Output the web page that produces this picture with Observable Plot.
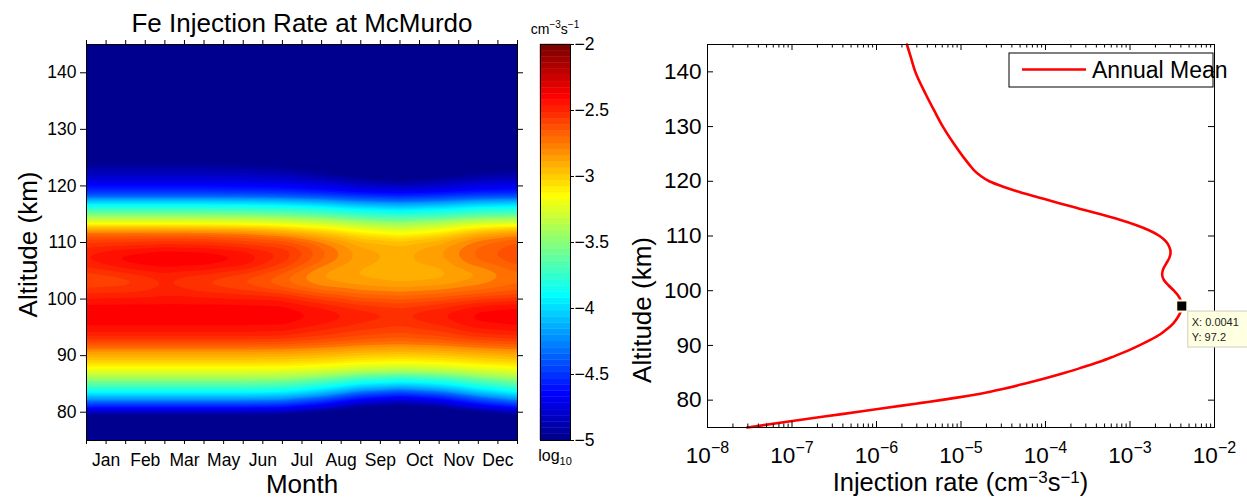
<!DOCTYPE html>
<html>
<head>
<meta charset="utf-8">
<script src="https://cdn.jsdelivr.net/npm/d3@7"></script>
<script src="https://cdn.jsdelivr.net/npm/@observablehq/plot@0.6"></script>
<style>
  html, body { margin: 0; padding: 0; background: #fff; }
  #wrap { position: relative; width: 1247px; height: 498px; overflow: hidden; background: #fff; }
  #wrap > svg { position: absolute; top: 0; overflow: visible; }
</style>
</head>
<body>
<div id="wrap"></div>
<script>
// ---------------- DATA ----------------
const titleText = "Fe Injection Rate at McMurdo";
const monthLabels = ["Jan","Feb","Mar","May","Jun","Jul","Aug","Sep","Oct","Nov","Dec"];
const altTicks = [80, 90, 100, 110, 120, 130, 140];
const colorTicks = [-5, -4.5, -4, -3.5, -3, -2.5, -2];
const rateTicks = [1e-8, 1e-7, 1e-6, 1e-5, 1e-4, 1e-3, 1e-2];

// heat map grid: month-axis position (0..22) x altitude (km), values = log10 injection rate
const gridMonth = [0, 2, 4, 6, 8, 10, 12, 14, 16, 18, 20, 22];
const gridAlt = [75, 78, 79.5, 81, 82.5, 84, 85.5, 87, 88.5, 90, 91.5, 93, 94.5, 96, 97.5, 99, 100.5, 102, 103.5, 105, 106.5, 108, 109.5, 111, 112.5, 114, 115.5, 117, 118.5, 120, 121.5, 123, 124.5, 126, 130, 145];
const gridLog = [
  [-5.6,-5.6,-5.6,-5.6,-5.6,-5.61,-5.67,-5.76,-5.8,-5.76,-5.67,-5.6],
  [-5.25,-5.25,-5.25,-5.25,-5.25,-5.265,-5.355,-5.49,-5.55,-5.49,-5.355,-5.25],
  [-5.0,-5.0,-5.0,-5.0,-5.0,-5.02,-5.12,-5.28,-5.35,-5.28,-5.12,-5.0],
  [-4.52,-4.52,-4.52,-4.52,-4.52,-4.54,-4.69,-4.9,-5.0,-4.9,-4.69,-4.52],
  [-4.15,-4.15,-4.15,-4.15,-4.15,-4.18,-4.34,-4.59,-4.7,-4.59,-4.34,-4.15],
  [-3.75,-3.75,-3.75,-3.75,-3.75,-3.78,-3.925,-4.15,-4.25,-4.15,-3.925,-3.75],
  [-3.5,-3.5,-3.5,-3.5,-3.5,-3.52,-3.62,-3.78,-3.85,-3.78,-3.62,-3.5],
  [-3.25,-3.25,-3.25,-3.25,-3.25,-3.26,-3.32,-3.41,-3.45,-3.41,-3.32,-3.25],
  [-3.02,-3.02,-3.02,-3.02,-3.02,-3.03,-3.065,-3.125,-3.15,-3.125,-3.065,-3.02],
  [-2.88,-2.88,-2.88,-2.88,-2.88,-2.885,-2.915,-2.96,-2.98,-2.96,-2.915,-2.88],
  [-2.7,-2.7,-2.7,-2.7,-2.7,-2.705,-2.735,-2.78,-2.8,-2.78,-2.735,-2.7],
  [-2.52,-2.52,-2.52,-2.52,-2.52,-2.53,-2.57,-2.62,-2.65,-2.62,-2.56,-2.53],
  [-2.42,-2.42,-2.42,-2.42,-2.42,-2.43,-2.5,-2.55,-2.58,-2.54,-2.46,-2.43],
  [-2.38,-2.38,-2.38,-2.38,-2.38,-2.38,-2.42,-2.48,-2.52,-2.47,-2.39,-2.37],
  [-2.36,-2.36,-2.36,-2.36,-2.36,-2.36,-2.41,-2.47,-2.5,-2.45,-2.38,-2.36],
  [-2.39,-2.39,-2.39,-2.39,-2.39,-2.4,-2.47,-2.54,-2.58,-2.53,-2.45,-2.42],
  [-2.47,-2.46,-2.45,-2.46,-2.48,-2.5,-2.6,-2.68,-2.7,-2.67,-2.62,-2.58],
  [-2.56,-2.55,-2.49,-2.54,-2.58,-2.66,-2.75,-2.78,-2.8,-2.78,-2.73,-2.68],
  [-2.6,-2.58,-2.5,-2.56,-2.62,-2.7,-2.8,-2.85,-2.88,-2.86,-2.8,-2.72],
  [-2.54,-2.47,-2.43,-2.45,-2.51,-2.63,-2.8,-2.86,-2.88,-2.87,-2.8,-2.7],
  [-2.45,-2.385,-2.355,-2.365,-2.4,-2.53,-2.7,-2.83,-2.87,-2.83,-2.7,-2.62],
  [-2.45,-2.385,-2.355,-2.365,-2.41,-2.5,-2.68,-2.82,-2.87,-2.8,-2.68,-2.6],
  [-2.52,-2.5,-2.47,-2.48,-2.52,-2.56,-2.7,-2.85,-2.89,-2.83,-2.7,-2.62],
  [-2.62,-2.62,-2.62,-2.63,-2.66,-2.72,-2.83,-2.96,-3.02,-2.94,-2.78,-2.7],
  [-2.85,-2.85,-2.85,-2.86,-2.88,-2.95,-3.05,-3.2,-3.3,-3.2,-3.02,-2.94],
  [-3.35,-3.35,-3.35,-3.35,-3.36,-3.38,-3.43,-3.51,-3.55,-3.51,-3.44,-3.41],
  [-3.6,-3.6,-3.6,-3.6,-3.61,-3.64,-3.7,-3.8,-3.85,-3.8,-3.71,-3.68],
  [-3.95,-3.95,-3.95,-3.95,-3.96,-3.99,-4.06,-4.17,-4.22,-4.17,-4.07,-4.03],
  [-4.45,-4.45,-4.45,-4.45,-4.46,-4.47,-4.51,-4.57,-4.6,-4.57,-4.52,-4.5],
  [-4.6,-4.6,-4.6,-4.6,-4.61,-4.63,-4.69,-4.78,-4.83,-4.78,-4.7,-4.67],
  [-4.8,-4.8,-4.8,-4.8,-4.81,-4.83,-4.89,-4.98,-5.03,-4.98,-4.9,-4.87],
  [-4.88,-4.88,-4.88,-4.88,-4.89,-4.92,-4.99,-5.1,-5.15,-5.1,-5.0,-4.96],
  [-5.0,-5.0,-5.0,-5.0,-5.02,-5.05,-5.12,-5.24,-5.3,-5.24,-5.14,-5.09],
  [-5.15,-5.15,-5.15,-5.15,-5.17,-5.2,-5.27,-5.39,-5.45,-5.39,-5.29,-5.24],
  [-5.4,-5.4,-5.4,-5.4,-5.41,-5.43,-5.48,-5.56,-5.6,-5.56,-5.49,-5.46],
  [-5.8,-5.8,-5.8,-5.8,-5.8,-5.8,-5.85,-5.85,-5.9,-5.85,-5.8,-5.8]
];

// annual mean profile
const profileAlt = [75,76,77,78,79,79.5,80,80.5,81,81.5,82,83,84,85,86,87,88,89,90,91,92,93,94,95,96,97.2,98,99,100,101,102,103,104,105,106,107,108,109,110,111,112,113,114,115,116,117,118,119,120,121,122,123,124,127,130,133,136,140,143,145];
const profileRate = [2.95e-8,8.32e-8,2.40e-7,7.08e-7,2.0e-6,3.39e-6,5.75e-6,9.33e-6,1.45e-5,2.14e-5,3.02e-5,5.62e-5,1.0e-4,1.70e-4,2.75e-4,4.37e-4,6.46e-4,9.33e-4,1.29e-3,1.74e-3,2.26e-3,2.75e-3,3.24e-3,3.63e-3,3.94e-3,4.10e-3,4.03e-3,3.76e-3,3.31e-3,2.85e-3,2.51e-3,2.40e-3,2.48e-3,2.69e-3,2.92e-3,3.02e-3,2.92e-3,2.66e-3,2.24e-3,1.70e-3,1.17e-3,7.41e-4,4.37e-4,2.51e-4,1.45e-4,8.51e-5,5.01e-5,3.16e-5,2.16e-5,1.70e-5,1.43e-5,1.26e-5,1.12e-5,8.13e-6,6.10e-6,4.79e-6,3.80e-6,2.88e-6,2.51e-6,2.29e-6];
const legendLabel = "Annual Mean";
const tipPoint = {x: 0.0041, y: 97.2};

// ---------------- HELPERS ----------------
const FONT = "'Liberation Sans', Arial, Helvetica, sans-serif";
function jet64(t) {
  const i = Math.min(64, Math.max(1, Math.floor(t * 64) + 1));
  const c = v => Math.max(0, Math.min(1, v));
  const r = c(Math.min((i - 24) / 16, (72 - i) / 16));
  const g = c(Math.min((i - 8) / 16, (56 - i) / 16));
  const b = c(Math.min((i + 8) / 16, (40 - i) / 16));
  return `rgb(${Math.round(r * 255)},${Math.round(g * 255)},${Math.round(b * 255)})`;
}
const minus = s => String(s).replace("-", "\u2212");
function richText(parent, x, y, parts, opts) {
  const t = d3.select(parent).append("text")
    .attr("x", x).attr("y", y)
    .attr("text-anchor", opts.anchor || "middle")
    .attr("font-family", FONT)
    .attr("font-size", opts.size)
    .attr("fill", "black");
  let shift = 0;
  for (const p of parts) {
    const ts = t.append("tspan").text(p.t);
    const target = p.sup ? -opts.rise : p.sub ? opts.drop : 0;
    if (target !== shift) { ts.attr("dy", target - shift); shift = target; }
    if (p.sup || p.sub) ts.attr("font-size", opts.small);
  }
  return t;
}
function plainText(parent, x, y, str, size, fill) {
  return d3.select(parent).append("text")
    .attr("x", x).attr("y", y).attr("text-anchor", "start")
    .attr("font-family", FONT).attr("font-size", size)
    .attr("fill", fill || "black").text(str);
}

const H = 498;
const wrap = document.getElementById("wrap");
const baseStyle = {fontFamily: FONT, background: "transparent", overflow: "visible", color: "black"};

// ---------------- LEFT: HEAT MAP ----------------
const heatData = gridAlt.flatMap((alt, r) => gridMonth.map((m, c) => ({m, alt, v: gridLog[r][c]})));
const levels = d3.range(0, 61).map(k => Math.round((-5 + k * 0.05) * 100) / 100);
const thresholds = [-9, ...levels];
const W1 = 520, FW1 = 431, FH1 = 396;
const monthPos = monthLabels.map((d, i) => 2 * i + 1);
const monthTickPos = d3.range(0, 23);

const left = Plot.plot({
  width: W1, height: H,
  marginLeft: 86, marginRight: W1 - 86 - FW1, marginTop: 44, marginBottom: H - 44 - FH1,
  style: baseStyle,
  x: {domain: [0, 22]},
  y: {domain: [75, 145]},
  color: {type: "linear", domain: [-5, -2], interpolate: jet64, clamp: true},
  marks: [
    Plot.contour(heatData, {x: "m", y: "alt", fill: "v", thresholds, interpolate: "barycentric", pixelSize: 1, blur: 4, stroke: "none"}),
    Plot.frame({stroke: "black", strokeWidth: 1}),
    Plot.axisY(altTicks, {anchor: "left", tickSize: 6, tickPadding: 4, fontSize: 17.5, label: null}),
    Plot.tickY(altTicks, {y: d => d, insetLeft: FW1, insetRight: -6, stroke: "black"}),
    Plot.axisX(monthPos, {anchor: "bottom", tickSize: 0, tickPadding: 13, fontSize: 17.5, tickFormat: d => monthLabels[(d - 1) / 2], label: null}),
    Plot.tickX(monthTickPos, {x: d => d, insetTop: FH1, insetBottom: -4, stroke: "black"}),
    Plot.tickX(monthTickPos, {x: d => d, insetBottom: FH1, insetTop: -4, stroke: "black"}),
    Plot.text([titleText], {text: d => d, frameAnchor: "top", dy: -13, fontSize: 26, lineAnchor: "bottom", textAnchor: "middle"}),
    Plot.text(["Month"], {text: d => d, frameAnchor: "bottom", dy: 52, fontSize: 26, lineAnchor: "bottom", textAnchor: "middle"}),
    Plot.text(["Altitude (km)"], {text: d => d, frameAnchor: "left", textAnchor: "middle", rotate: -90, dx: -50, dy: 2, fontSize: 26, lineAnchor: "bottom"})
  ]
});
left.style.left = "0px";
wrap.appendChild(left);

// ---------------- COLORBAR ----------------
const bins = d3.range(64).map(i => ({lo: -5 + i * 3 / 64, hi: -5 + (i + 1) * 3 / 64, c: jet64((i + 0.5) / 64)}));
const cbar = Plot.plot({
  width: 100, height: H,
  marginLeft: 20, marginRight: 50, marginTop: 44, marginBottom: H - 44 - FH1,
  style: baseStyle,
  y: {domain: [-5, -2]},
  color: {type: "identity"},
  marks: [
    Plot.rect(bins, {y1: "lo", y2: "hi", fill: "c", stroke: "c", strokeWidth: 0.4}),
    Plot.frame({stroke: "black", strokeWidth: 1}),
    Plot.axisY(colorTicks, {anchor: "right", tickSize: 3, tickPadding: 1, fontSize: 17.5, tickFormat: d => minus(d), label: null})
  ]
});
cbar.style.left = "520px";
wrap.appendChild(cbar);
richText(cbar, 35, 34, [{t: "cm"}, {t: "\u22123", sup: true}, {t: "s"}, {t: "\u22121", sup: true}], {size: 14, small: 10, rise: 6});
richText(cbar, 35, 461, [{t: "log"}, {t: "10", sub: true}], {size: 16, small: 11, drop: 4});

// ---------------- RIGHT: PROFILE ----------------
const profile = profileAlt.map((alt, i) => ({alt, rate: profileRate[i]}));
const W2 = 627, FW2 = 507, FH2 = 383;
const majorX = rateTicks;
const minorX = rateTicks.slice(0, -1).flatMap(d => d3.range(2, 10).map(k => d * k));

const right = Plot.plot({
  width: W2, height: H,
  marginLeft: 87, marginRight: W2 - 87 - FW2, marginTop: 44, marginBottom: H - 44 - FH2,
  style: baseStyle,
  x: {type: "log", domain: [1e-8, 1e-2]},
  y: {domain: [75, 145]},
  marks: [
    Plot.line(profile, {x: "rate", y: "alt", stroke: "red", strokeWidth: 2.6, curve: "monotone-y"}),
    Plot.frame({stroke: "black", strokeWidth: 1}),
    Plot.tickX(majorX, {x: d => d, insetTop: FH2 - 6, stroke: "black"}),
    Plot.tickX(majorX, {x: d => d, insetBottom: FH2 - 6, stroke: "black"}),
    Plot.tickX(minorX, {x: d => d, insetTop: FH2 - 3.5, stroke: "black"}),
    Plot.tickX(minorX, {x: d => d, insetBottom: FH2 - 3.5, stroke: "black"}),
    Plot.tickY(altTicks, {y: d => d, insetRight: FW2 - 6, stroke: "black"}),
    Plot.tickY(altTicks, {y: d => d, insetLeft: FW2 - 6, stroke: "black"}),
    Plot.axisY(altTicks, {anchor: "left", tickSize: 0, tickPadding: 6, fontSize: 22.5, label: null}),
    Plot.axisX(rateTicks, {anchor: "bottom", tickSize: 0, tickPadding: 20, fontSize: 22.5, tickFormat: d => String(Math.round(Math.log10(d))), label: null}),
    Plot.dot([tipPoint], {x: "x", y: "y", symbol: "square", r: 7.3, fill: "#ffffe1", stroke: "none"}),
    Plot.dot([tipPoint], {x: "x", y: "y", symbol: "square", r: 5.1, fill: "black", stroke: "none"}),
    Plot.text(["Altitude (km)"], {text: d => d, frameAnchor: "left", textAnchor: "middle", rotate: -90, dx: -57, dy: 74, fontSize: 26, lineAnchor: "bottom"})
  ]
});
right.style.left = "620px";
wrap.appendChild(right);

// superscript exponents on the log axis
d3.select(right).selectAll('g[aria-label="x-axis tick label"] text').each(function () {
  const e = this.textContent;
  const t = d3.select(this);
  t.text("");
  t.append("tspan").text("10");
  t.append("tspan").attr("dy", -10).attr("font-size", 16).text(minus(e));
});

richText(right, 87 + FW2 / 2, 491, [{t: "Injection rate (cm"}, {t: "\u22123", sup: true}, {t: "s"}, {t: "\u22121", sup: true}, {t: ")"}], {size: 25.5, small: 17, rise: 8});

// legend
const lg = d3.select(right).append("g");
lg.append("rect").attr("x", 389).attr("y", 53).attr("width", 204).attr("height", 34).attr("fill", "white").attr("stroke", "black").attr("stroke-width", 1);
lg.append("line").attr("x1", 402).attr("x2", 466).attr("y1", 69.5).attr("y2", 69.5).attr("stroke", "red").attr("stroke-width", 2.6);
plainText(lg.node(), 472, 78, legendLabel, 23);

// data tip
const sx = right.scale("x"), sy = right.scale("y");
const px = sx.apply(tipPoint.x), py = sy.apply(tipPoint.y);
const tg = d3.select(right).append("g");
tg.append("rect").attr("x", px + 6.5).attr("y", py + 5.5).attr("width", 80).attr("height", 36).attr("fill", "#ffffe1").attr("stroke", "#cfcfbf").attr("stroke-width", 1);
plainText(tg.node(), px + 10.5, py + 20.5, `X: ${tipPoint.x}`, 11, "#222");
plainText(tg.node(), px + 10.5, py + 35.5, `Y: ${tipPoint.y}`, 11, "#222");
</script>
</body>
</html>
